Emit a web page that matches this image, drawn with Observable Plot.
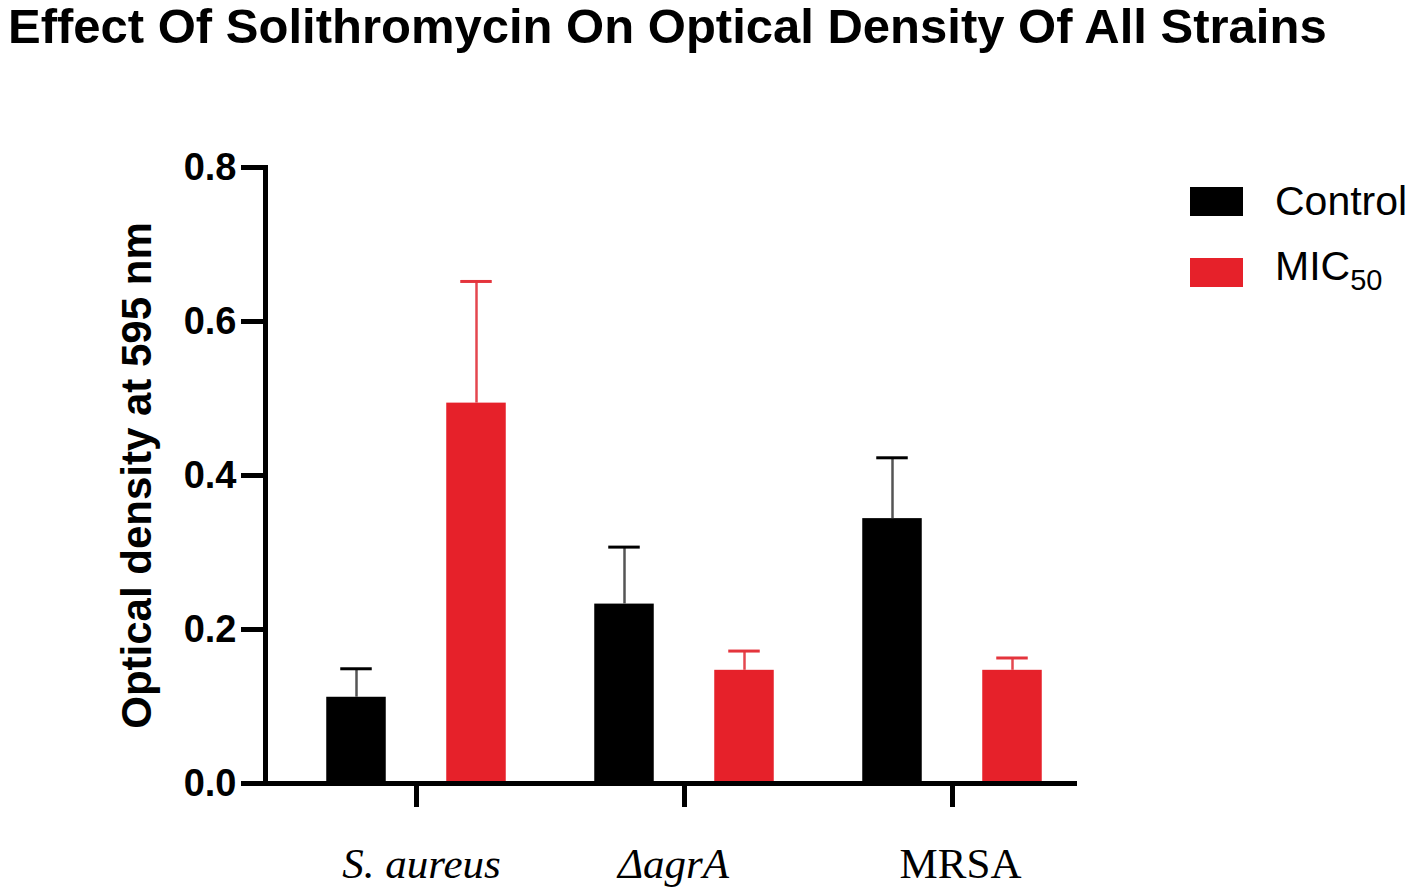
<!DOCTYPE html>
<html>
<head>
<meta charset="utf-8">
<script src="https://cdn.jsdelivr.net/npm/d3@7"></script>
<script src="https://cdn.jsdelivr.net/npm/@observablehq/plot@0.6"></script>
<style>
  html, body { margin: 0; padding: 0; background: #fff; }
  #wrap { position: relative; width: 1421px; height: 887px; overflow: hidden; }
  #chart { position: absolute; left: 0; top: 0; }
  .title { position: absolute; left: 8px; top: 2px; font-family: "Liberation Sans", Arial, sans-serif; font-weight: bold; font-size: 49px; line-height: 49px; white-space: nowrap; color: #000; }
  .sw { position: absolute; width: 53px; height: 29px; }
  .lt { position: absolute; font-family: "Liberation Sans", Arial, sans-serif; font-size: 41px; line-height: 40px; white-space: nowrap; color: #000; }
  .lt .sub { font-size: 29px; position: relative; top: 10px; }
</style>
</head>
<body>
<div id="wrap">
  <div id="chart"></div>
  <div class="title">Effect Of Solithromycin On Optical Density Of All Strains</div>
  <div id="legend"></div>
</div>
<script>
// ---- data ----
const strains = ["S. aureus", "ΔagrA", "MRSA"];
const seriesNames = ["Control", "MIC"];
const seriesSub = ["", "50"];
const seriesColors = ["#000000", "#e6212a"];
const controlMean = [0.112, 0.233, 0.344];
const controlErr = [0.037, 0.074, 0.079];
const micMean = [0.494, 0.147, 0.147];
const micErr = [0.158, 0.025, 0.016];
const yTicks = [0, 0.2, 0.4, 0.6, 0.8];
const yLabel = "Optical density at 595 nm";

const control = strains.map((s, i) => ({strain: s, value: controlMean[i], err: controlErr[i]}));
const mic = strains.map((s, i) => ({strain: s, value: micMean[i], err: micErr[i]}));

const step = 268.5;
const barW = 60;
const capW = 32;
const offset = 60;
const barInset = (step - barW) / 2;
const capInset = (step - capW) / 2;
const serif = "Liberation Serif, Times New Roman, serif";
const sans = "Liberation Sans, Arial, sans-serif";
const labelStyle = {text: d => d, frameAnchor: "bottom", lineAnchor: "top", dy: 64, fontSize: 43, fontFamily: serif, fill: "#000"};

const chart = Plot.plot({
  width: 1421,
  height: 887,
  marginTop: 167,
  marginBottom: 104,
  marginLeft: 265,
  marginRight: 344,
  style: {background: "transparent", overflow: "visible"},
  x: {type: "band", domain: strains, range: [415 - step / 2, 952 + step / 2], padding: 0},
  y: {domain: [0, 0.8]},
  marks: [
    Plot.barY(control, {x: "strain", y: "value", fill: seriesColors[0], insetLeft: barInset, insetRight: barInset, dx: -offset}),
    Plot.barY(mic, {x: "strain", y: "value", fill: seriesColors[1], insetLeft: barInset, insetRight: barInset, dx: offset}),
    Plot.ruleX(control, {x: "strain", y1: "value", y2: d => d.value + d.err, stroke: "#555", strokeWidth: 2.5, dx: -offset}),
    Plot.ruleX(mic, {x: "strain", y1: "value", y2: d => d.value + d.err, stroke: "#e4474f", strokeWidth: 2.5, dx: offset}),
    Plot.tickY(control, {x: "strain", y: d => d.value + d.err, stroke: "#000", strokeWidth: 3, insetLeft: capInset, insetRight: capInset, dx: -offset}),
    Plot.tickY(mic, {x: "strain", y: d => d.value + d.err, stroke: "#e4343c", strokeWidth: 3, insetLeft: capInset, insetRight: capInset, dx: offset}),
    Plot.axisY({ticks: yTicks, tickFormat: d3.format(".1f"), tickSize: 24, tickPadding: 5, strokeWidth: 5, fontSize: 38, fontWeight: "bold", fontFamily: sans, label: null}),
    Plot.frame({anchor: "left", strokeWidth: 5}),
    Plot.ruleY([0], {strokeWidth: 5}),
    Plot.axisX({tickSize: 24, strokeWidth: 5, tickFormat: () => "", label: null}),
    Plot.text([strains[0]], {...labelStyle, x: d => d, fontStyle: "italic", dx: 5}),
    Plot.text([strains[1]], {...labelStyle, x: d => d, fontStyle: "italic", dx: -11}),
    Plot.text([strains[2]], {...labelStyle, x: d => d, dx: 8}),
    Plot.text([yLabel], {text: d => d, frameAnchor: "left", textAnchor: "middle", rotate: -90, dx: -128, fontSize: 42, fontWeight: "bold", fontFamily: sans, fill: "#000"})
  ]
});
document.getElementById("chart").appendChild(chart);

// legend
const legend = document.getElementById("legend");
const legTops = [187, 258];
const textTops = [181, 246];
seriesNames.forEach((name, i) => {
  const sw = document.createElement("div");
  sw.className = "sw";
  sw.style.left = "1190px";
  sw.style.top = legTops[i] + "px";
  sw.style.background = seriesColors[i];
  legend.appendChild(sw);
  const t = document.createElement("div");
  t.className = "lt";
  t.style.left = "1275px";
  t.style.top = textTops[i] + "px";
  t.textContent = name;
  if (seriesSub[i]) {
    const s = document.createElement("span");
    s.className = "sub";
    s.textContent = seriesSub[i];
    t.appendChild(s);
  }
  legend.appendChild(t);
});
</script>
</body>
</html>
